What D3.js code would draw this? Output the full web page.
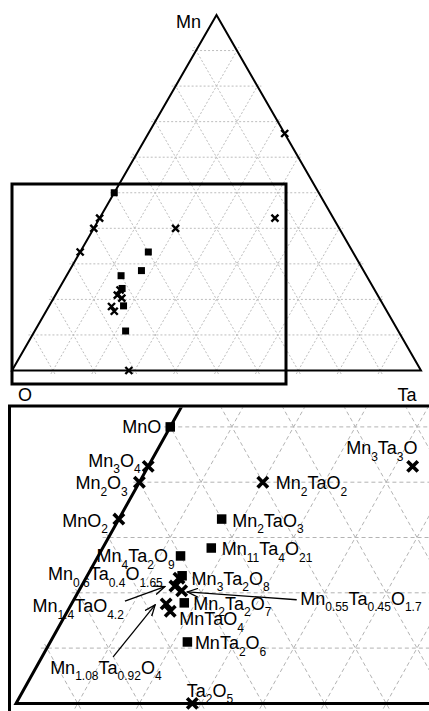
<!DOCTYPE html>
<html>
<head>
<meta charset="utf-8">
<script src="https://cdn.jsdelivr.net/npm/d3@7"></script>
<style>
  html, body { margin: 0; padding: 0; background: #fff; }
  svg { display: block; }
  text { font-family: "Liberation Sans", Arial, sans-serif; fill: #000; }
</style>
</head>
<body>
<svg id="chart" width="429" height="711"></svg>
<script>
// Mn-Ta-O compositions (atomic fractions of Mn and Ta; O is the remainder)
const names = [
  "MnO", "Mn3O4", "Mn2O3", "MnO2", "Mn3Ta3O", "Mn2TaO2", "Mn2TaO3",
  "Mn11Ta4O21", "Mn4Ta2O9", "Mn3Ta2O8", "Mn0.6Ta0.4O1.65", "Mn1.4TaO4.2",
  "Mn0.55Ta0.45O1.7", "Mn2Ta2O7", "MnTaO4", "Mn1.08Ta0.92O4", "MnTa2O6",
  "Ta2O5", "Mn2Ta"
];
const mnFrac = [
  1/2, 3/7, 2/5, 1/3, 3/7, 2/5, 2/6,
  0.281, 4/15, 3/13, 0.6/2.65, 1.4/6.6,
  0.55/2.7, 2/11, 1/6, 1.08/6, 1/9,
  0, 2/3
];
const taFrac = [
  0, 0, 0, 0, 3/7, 1/5, 1/6,
  0.176, 2/15, 2/13, 0.4/2.65, 1/6.6,
  0.45/2.7, 2/11, 1/6, 0.92/6, 2/9,
  2/7, 1/3
];
const kinds = [
  "square", "cross", "cross", "cross", "cross", "cross", "square",
  "square", "square", "square", "cross", "cross",
  "cross", "square", "cross", "cross", "square",
  "cross", "cross"
];
const vertexLabels = ["O", "Ta", "Mn"];
const gridSteps = d3.range(1, 10).map(k => k / 10);

// label placement in the enlarged view (offsets from the mark, px)
const labelLayout = {
  "MnO":              {dx: -9,   dy: 6,   anchor: "end"},
  "Mn3O4":            {dx: -60,  dy: 0.5},
  "Mn2O3":            {dx: -64,  dy: 7},
  "MnO2":             {dx: -56.5,dy: 7.5},
  "Mn3Ta3O":          {dx: -66.5,dy: -12},
  "Mn2TaO2":          {dx: 13,   dy: 7},
  "Mn2TaO3":          {dx: 10.5, dy: 7.5},
  "Mn11Ta4O21":       {dx: 10.5, dy: 7},
  "Mn4Ta2O9":         {dx: -84,  dy: 6.5},
  "Mn3Ta2O8":         {dx: 9.5,  dy: 9},
  "Mn0.6Ta0.4O1.65":  {dx: -131, dy: 2},
  "Mn1.4TaO4.2":      {dx: -142.5, dy: 26, arrow: [-50, 15, -10, 0.5]},
  "Mn0.55Ta0.45O1.7": {dx: 118.5, dy: 14, arrow: [115, 9, 5.5, 1.2]},
  "Mn2Ta2O7":         {dx: 9,    dy: 7},
  "MnTaO4":           {dx: 9,    dy: 14},
  "Mn1.08Ta0.92O4":   {dx: -116, dy: 70, arrow: [-53, 53, -11, 1]},
  "MnTa2O6":          {dx: 7.5,  dy: 7.5},
  "Ta2O5":            {dx: -5.5, dy: -6.5}
};

const points = names.map((n, i) => ({
  name: n, mn: mnFrac[i], ta: taFrac[i], kind: kinds[i]
}));

const svg = d3.select("#chart");

svg.append("defs").append("marker")
  .attr("id", "head")
  .attr("viewBox", "0 0 12 10")
  .attr("refX", 11).attr("refY", 5)
  .attr("markerWidth", 12).attr("markerHeight", 10)
  .attr("markerUnits", "userSpaceOnUse")
  .attr("orient", "auto")
  .append("path")
  .attr("d", "M0,0.5 L11,5 L0,9.5")
  .attr("fill", "none").attr("stroke", "#000").attr("stroke-width", 1.3);

svg.append("clipPath").attr("id", "insetClip")
  .append("rect").attr("x", 11).attr("y", 407.5).attr("width", 430).attr("height", 310);

// Draws a ternary diagram into group g; origin is the O corner.
function ternary(g, cfg) {
  const sx = d3.scaleLinear().domain([0, 1]).range([cfg.ox, cfg.ox + cfg.side]);
  const sy = d3.scaleLinear().domain([0, 1]).range([cfg.oy, cfg.oy - cfg.height]);
  const P = (mn, ta) => [sx(ta + mn / 2), sy(mn)];
  const ext = cfg.tick;

  // extend a segment by ext px on both ends (tick marks at the edges)
  function seg(a, b) {
    const dx = b[0] - a[0], dy = b[1] - a[1], len = Math.hypot(dx, dy);
    const ux = dx / len * ext, uy = dy / len * ext;
    return [[a[0] - ux, a[1] - uy], [b[0] + ux, b[1] + uy]];
  }
  const gridLines = [];
  gridSteps.forEach(v => {
    gridLines.push(seg(P(v, 0), P(v, 1 - v)));      // constant Mn
    gridLines.push(seg(P(0, v), P(1 - v, v)));      // constant Ta
    gridLines.push(seg(P(0, 1 - v), P(1 - v, 0)));  // constant O
  });
  g.append("g").selectAll("line").data(gridLines).join("line")
    .attr("x1", d => d[0][0]).attr("y1", d => d[0][1])
    .attr("x2", d => d[1][0]).attr("y2", d => d[1][1])
    .attr("stroke", cfg.gridColor).attr("stroke-width", 1)
    .attr("stroke-dasharray", cfg.dash);

  const corners = [P(0, 0), P(0, 1), P(1, 0)];
  g.append("path")
    .attr("d", d3.line()(corners) + "Z")
    .attr("fill", "none").attr("stroke", "#000")
    .attr("stroke-width", cfg.edge).attr("stroke-linejoin", "miter");

  const marks = g.append("g");
  const pos = {};
  points.forEach(p => {
    const [x, y] = P(p.mn, p.ta);
    pos[p.name] = [x, y];
    if (p.kind === "square") {
      marks.append("rect")
        .attr("x", x - cfg.sq / 2).attr("y", y - cfg.sq / 2)
        .attr("width", cfg.sq).attr("height", cfg.sq).attr("fill", "#000");
    } else {
      const r = cfg.cr;
      marks.append("path")
        .attr("d", `M${x - r},${y - r}L${x + r},${y + r}M${x - r},${y + r}L${x + r},${y - r}`)
        .attr("stroke", "#000").attr("stroke-width", cfg.crw).attr("fill", "none");
    }
  });
  return pos;
}

// overview diagram
const overview = svg.append("g");
ternary(overview, {ox: 12, oy: 370.5, side: 409, height: 355.5, tick: 4,
  gridColor: "#bdbdbd", dash: "2,2", edge: 2, sq: 7, cr: 3.5, crw: 2.4});

overview.append("rect").attr("x", 12).attr("y", 184).attr("width", 274).attr("height", 200)
  .attr("fill", "none").attr("stroke", "#000").attr("stroke-width", 3);

overview.append("text").attr("x", 201).attr("y", 27.5).attr("text-anchor", "end")
  .attr("font-size", 18).text(vertexLabels[2]);
overview.append("text").attr("x", 18).attr("y", 400.5).attr("font-size", 18).text(vertexLabels[0]);
overview.append("text").attr("x", 397.5).attr("y", 400.5).attr("font-size", 18).text(vertexLabels[1]);

// enlarged view of the O-rich corner
const inset = svg.append("g").attr("clip-path", "url(#insetClip)");
const insetPos = ternary(inset, {ox: 16, oy: 703.4, side: 617, height: 553, tick: 6,
  gridColor: "#b3b3b3", dash: "4,3", edge: 3, sq: 9.5, cr: 5.2, crw: 3.6});

svg.append("path")
  .attr("d", "M9.5,720 V406 H440")
  .attr("fill", "none").attr("stroke", "#000").attr("stroke-width", 3);

// formula labels with subscripts
function formula(sel, str) {
  const parts = [...str.matchAll(/([A-Z][a-z]?)([\d.]*)/g)];
  let shifted = false;
  parts.forEach(m => {
    sel.append("tspan").attr("font-size", 18)
      .attr("dy", shifted ? -6.5 : 0).text(m[1]);
    shifted = false;
    if (m[2]) {
      sel.append("tspan").attr("font-size", 12).attr("dy", 6.5).text(m[2]);
      shifted = true;
    }
  });
}

const labels = svg.append("g");
points.forEach(p => {
  const lay = labelLayout[p.name];
  if (!lay) return;
  const [x, y] = insetPos[p.name];
  const t = labels.append("text")
    .attr("x", x + lay.dx).attr("y", y + lay.dy)
    .attr("text-anchor", lay.anchor || "start");
  formula(t, p.name);
  if (lay.arrow) {
    const a = lay.arrow;
    labels.append("line")
      .attr("x1", x + a[0]).attr("y1", y + a[1])
      .attr("x2", x + a[2]).attr("y2", y + a[3])
      .attr("stroke", "#000").attr("stroke-width", 1.3)
      .attr("marker-end", "url(#head)");
  }
});
</script>
</body>
</html>
